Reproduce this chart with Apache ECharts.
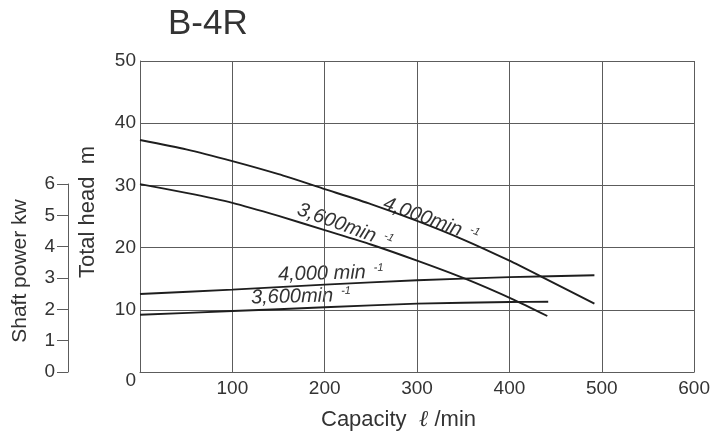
<!DOCTYPE html>
<html>
<head>
<meta charset="utf-8">
<script src="https://cdn.jsdelivr.net/npm/echarts@6/dist/echarts.min.js"></script>
<style>
  html, body { margin: 0; padding: 0; background: #ffffff; }
  #chart { width: 713px; height: 441px; }
</style>
</head>
<body>
<div id="chart"></div>
<script>
// Pump performance curves for model B-4R
const titleText = 'B-4R';

// Capacity (l/min) axis and head (m) axis ticks
const capacityTicks = [0, 100, 200, 300, 400, 500, 600];
const headTicks = [0, 10, 20, 30, 40, 50];
const powerTicks = [0, 1, 2, 3, 4, 5, 6];

// Total head curves (m) vs capacity (l/min)
const head4000Q = [0, 50, 100, 150, 200, 250, 300, 350, 400, 435, 492];
const head4000H = [37.3, 35.8, 33.9, 31.8, 29.4, 27.0, 24.3, 21.3, 17.9, 15.3, 11.0];
const head3600Q = [0, 50, 100, 150, 200, 250, 300, 352, 405, 441];
const head3600H = [30.2, 28.8, 27.2, 25.1, 22.8, 20.5, 17.9, 15.0, 11.6, 9.0];

// Shaft power curves (kW) vs capacity (l/min)
const power4000Q = [0, 100, 200, 300, 400, 492];
const power4000KW = [2.51, 2.65, 2.81, 2.95, 3.05, 3.11];
const power3600Q = [0, 100, 200, 300, 400, 442];
const power3600KW = [1.84, 1.96, 2.08, 2.2, 2.25, 2.26];

const zip = (xs, ys) => xs.map((x, i) => [x, ys[i]]);

const FONT = '"Liberation Sans", Arial, Helvetica, sans-serif';
const TEXT = '#333333';
const GRID = '#5c5c5c';
const CURVE = '#1e1e1e';

const chart = echarts.init(document.getElementById('chart'), null, { renderer: 'canvas' });

function curve(name, data, yAxisIndex) {
  return {
    name, type: 'line', xAxisIndex: 0, yAxisIndex, data,
    smooth: 0.2, showSymbol: false, silent: true,
    lineStyle: { color: CURVE, width: 1.9 }
  };
}

// Speed label with a raised "-1" exponent
function speedLabel(main, x, y, deg, size) {
  return {
    type: 'text', x, y, rotation: deg * Math.PI / 180,
    style: {
      text: '{m|' + main + '}{s|-1}',
      verticalAlign: 'middle', align: 'left',
      rich: {
        m: { fontFamily: FONT, fontStyle: 'italic', fontSize: size, fill: TEXT },
        s: { fontFamily: FONT, fontStyle: 'italic', fontSize: 11, fill: TEXT,
             verticalAlign: 'top', padding: [0, 0, 0, 8] }
      }
    }
  };
}

chart.setOption({
  backgroundColor: '#ffffff',
  animation: false,
  grid: [
    { left: 140, top: 61, right: 16, bottom: 69, containLabel: false },
    { left: 68, top: 184, width: 1, bottom: 69, containLabel: false }
  ],
  xAxis: [
    {
      gridIndex: 0, type: 'value', min: capacityTicks[0], max: capacityTicks[capacityTicks.length - 1], interval: 100,
      axisLine: { show: true, onZero: false, lineStyle: { color: GRID, width: 1 } },
      axisTick: { show: false },
      splitLine: { show: true, lineStyle: { color: GRID, width: 1 } },
      axisLabel: {
        margin: 7, color: TEXT, fontFamily: FONT, fontSize: 19,
        formatter: v => (v === 0 ? '' : String(v))
      }
    },
    { gridIndex: 1, type: 'value', min: 0, max: 1, show: false }
  ],
  yAxis: [
    {
      gridIndex: 0, type: 'value', min: headTicks[0], max: headTicks[headTicks.length - 1], interval: 10,
      axisLine: { show: true, onZero: false, lineStyle: { color: GRID, width: 1 } },
      axisTick: { show: false },
      splitLine: { show: true, lineStyle: { color: GRID, width: 1 } },
      axisLabel: {
        margin: 4, color: TEXT, fontFamily: FONT, fontSize: 19,
        formatter: v => (v === 0 ? '{z|0}' : String(v)),
        rich: { z: { fontFamily: FONT, fontSize: 19, color: TEXT, padding: [17, 0, 0, 0] } }
      }
    },
    // hidden kW scale sharing the head plot: 10 kW spans the full 50 m height
    { gridIndex: 0, type: 'value', min: 0, max: 10, show: false },
    {
      gridIndex: 1, type: 'value', min: powerTicks[0], max: powerTicks[powerTicks.length - 1], interval: 1,
      position: 'left',
      axisLine: { show: true, onZero: false, lineStyle: { color: GRID, width: 1 } },
      axisTick: { show: true, length: 11, lineStyle: { color: GRID, width: 1 } },
      splitLine: { show: false },
      axisLabel: { margin: 13, color: TEXT, fontFamily: FONT, fontSize: 19 }
    }
  ],
  series: [
    curve('4,000 head', zip(head4000Q, head4000H), 0),
    curve('3,600 head', zip(head3600Q, head3600H), 0),
    curve('4,000 power', zip(power4000Q, power4000KW), 1),
    curve('3,600 power', zip(power3600Q, power3600KW), 1)
  ],
  graphic: [
    {
      type: 'text', left: 168, top: 7,
      style: { text: titleText, fontFamily: FONT, fontSize: 35, fill: TEXT }
    },
    {
      type: 'text', x: 88, y: 212, rotation: Math.PI / 2,
      style: { text: 'Total head  m', fontFamily: FONT, fontSize: 22, fill: TEXT,
               align: 'center', verticalAlign: 'middle' }
    },
    {
      type: 'text', x: 20, y: 271, rotation: Math.PI / 2,
      style: { text: 'Shaft power kw', fontFamily: FONT, fontSize: 21, fill: TEXT,
               align: 'center', verticalAlign: 'middle' }
    },
    {
      type: 'text', x: 321, y: 420,
      style: {
        text: 'Capacity  {l|ℓ} /min',
        verticalAlign: 'middle', align: 'left',
        fontFamily: FONT, fontSize: 22, fill: TEXT,
        rich: { l: { fontFamily: '"Liberation Serif", "DejaVu Serif", serif', fontStyle: 'italic', fontSize: 23, fill: TEXT } }
      }
    },
    speedLabel('4,000min', 384, 203, -20, 20),
    speedLabel('3,600min', 298, 209, -20, 20),
    speedLabel('4,000 min', 278, 275, 1.5, 20),
    speedLabel('3,600min', 251, 298, 1.5, 20)
  ]
});
</script>
</body>
</html>
